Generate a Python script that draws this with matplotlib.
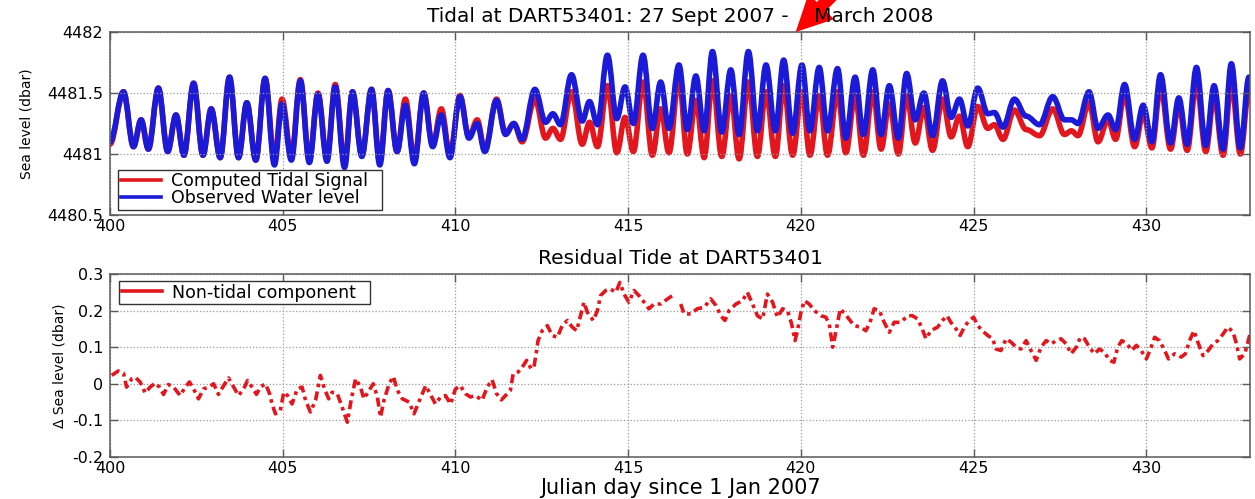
import matplotlib
matplotlib.use('Agg')
import numpy as np
import matplotlib.pyplot as plt
from matplotlib.path import Path
from matplotlib.patches import PathPatch, ArrowStyle
from matplotlib.lines import Line2D
from matplotlib.ticker import FuncFormatter

# Tidal extrema (high / low water) read per half cycle, Julian day since 1 Jan 2007
tide_day = [
    400.00, 400.39, 400.68, 400.90, 401.11, 401.40, 401.67, 401.91, 402.14, 402.42,
    402.69, 402.93, 403.19, 403.46, 403.72, 403.96, 404.22, 404.49, 404.76, 404.98,
    405.25, 405.51, 405.77, 406.02, 406.28, 406.52, 406.79, 407.02, 407.29, 407.57,
    407.81, 408.05, 408.31, 408.55, 408.81, 409.08, 409.34, 409.59, 409.84, 410.13,
    410.39, 410.63, 410.85, 411.19, 411.45, 411.69, 411.93, 412.30, 412.61, 412.82,
    413.04, 413.36, 413.67, 413.88, 414.11, 414.40, 414.67, 414.91, 415.15, 415.43,
    415.70, 415.94, 416.18, 416.47, 416.71, 416.96, 417.20, 417.44, 417.71, 417.97,
    418.21, 418.48, 418.74, 418.99, 419.26, 419.50, 419.76, 420.03, 420.26, 420.53,
    420.77, 421.06, 421.30, 421.57, 421.81, 422.08, 422.32, 422.56, 422.82, 423.06,
    423.31, 423.56, 423.81, 424.10, 424.35, 424.59, 424.83, 425.12, 425.41, 425.60,
    425.85, 426.18, 426.52, 426.91, 427.29, 427.63, 427.83, 428.02, 428.34, 428.60,
    428.89, 429.11, 429.37, 429.66, 429.91, 430.16, 430.41, 430.70, 430.94, 431.18,
    431.45, 431.72, 431.96, 432.22, 432.46, 432.72, 432.97, 433.10,
]
tide_computed = [
    4481.08, 4481.51, 4481.06, 4481.28, 4481.04, 4481.54, 4481.02, 4481.32, 4480.99, 4481.58,
    4480.99, 4481.37, 4480.97, 4481.63, 4480.97, 4481.42, 4480.95, 4481.62, 4480.96, 4481.45,
    4480.98, 4481.61, 4480.95, 4481.50, 4480.96, 4481.57, 4480.93, 4481.51, 4480.99, 4481.53,
    4480.94, 4481.52, 4481.02, 4481.45, 4480.95, 4481.50, 4481.07, 4481.37, 4481.00, 4481.48,
    4481.14, 4481.28, 4481.03, 4481.45, 4481.17, 4481.25, 4481.10, 4481.45, 4481.13, 4481.21,
    4481.12, 4481.51, 4481.08, 4481.26, 4481.06, 4481.56, 4481.01, 4481.30, 4481.02, 4481.59,
    4480.99, 4481.37, 4481.01, 4481.62, 4481.00, 4481.44, 4480.97, 4481.60, 4480.98, 4481.48,
    4480.96, 4481.59, 4480.98, 4481.51, 4480.98, 4481.56, 4480.99, 4481.51, 4480.99, 4481.48,
    4480.99, 4481.51, 4481.01, 4481.48, 4480.99, 4481.51, 4481.04, 4481.41, 4481.00, 4481.48,
    4481.09, 4481.38, 4481.03, 4481.45, 4481.14, 4481.31, 4481.06, 4481.39, 4481.21, 4481.24,
    4481.12, 4481.36, 4481.20, 4481.15, 4481.37, 4481.16, 4481.19, 4481.15, 4481.42, 4481.10,
    4481.28, 4481.12, 4481.49, 4481.06, 4481.33, 4481.05, 4481.55, 4481.04, 4481.40, 4481.03,
    4481.58, 4481.02, 4481.47, 4480.99, 4481.58, 4481.00, 4481.52, 4481.40,
]
tide_observed = [
    4481.10, 4481.51, 4481.06, 4481.28, 4481.04, 4481.54, 4481.02, 4481.32, 4480.99, 4481.58,
    4480.99, 4481.37, 4480.97, 4481.63, 4480.97, 4481.42, 4480.95, 4481.62, 4480.91, 4481.41,
    4480.95, 4481.60, 4480.93, 4481.49, 4480.94, 4481.55, 4480.89, 4481.51, 4480.98, 4481.53,
    4480.91, 4481.52, 4481.02, 4481.40, 4480.92, 4481.50, 4481.06, 4481.32, 4480.97, 4481.47,
    4481.13, 4481.25, 4481.02, 4481.44, 4481.16, 4481.25, 4481.12, 4481.53, 4481.26, 4481.33,
    4481.24, 4481.65, 4481.27, 4481.43, 4481.24, 4481.81, 4481.29, 4481.55, 4481.25, 4481.81,
    4481.21, 4481.59, 4481.21, 4481.73, 4481.20, 4481.64, 4481.19, 4481.84, 4481.18, 4481.69,
    4481.16, 4481.84, 4481.19, 4481.73, 4481.19, 4481.77, 4481.17, 4481.73, 4481.19, 4481.71,
    4481.19, 4481.70, 4481.13, 4481.63, 4481.16, 4481.69, 4481.16, 4481.56, 4481.13, 4481.66,
    4481.28, 4481.50, 4481.15, 4481.60, 4481.30, 4481.45, 4481.23, 4481.54, 4481.33, 4481.34,
    4481.22, 4481.45, 4481.31, 4481.24, 4481.47, 4481.28, 4481.28, 4481.25, 4481.51, 4481.21,
    4481.32, 4481.20, 4481.57, 4481.12, 4481.40, 4481.10, 4481.65, 4481.09, 4481.46, 4481.08,
    4481.71, 4481.07, 4481.56, 4481.04, 4481.74, 4481.05, 4481.63, 4481.50,
]

# Non-tidal residual (observed - computed), NaN marks the data gap
resid_day = [
    400.05, 400.24, 400.39, 400.48, 400.63, 400.73, 400.87, 401.02, 401.16, 401.31,
    401.43, 401.55, 401.69, 401.84, 402.03, 402.18, 402.30, 402.42, 402.56, 402.71,
    402.85, 403.00, 403.14, 403.29, 403.43, 403.58, 403.72, 403.87, 403.98, 404.11,
    404.24, 404.35, 404.50, 404.62, 404.69, 404.79, 404.93, 405.03, 405.14, 405.27,
    405.42, 405.56, 405.66, 405.80, 405.95, 406.09, 406.21, 406.33, 406.43, 406.58,
    406.72, 406.87, 406.98, 407.11, 407.25, 407.35, 407.50, 407.62, 407.74, 407.83,
    407.93, 408.08, 408.20, 408.32, 408.46, 408.66, 408.80, 409.00, 409.14, 409.28,
    409.42, 409.57, 409.71, 409.86, 410.00, 410.14, 410.29, 410.43, 410.58, 410.77,
    410.92, 411.06, 411.19, 411.33, 411.50, 411.59, 411.67, 411.81, 411.93, 412.06,
    412.19, 412.27, 412.35, 412.39, 412.51, 412.66, 412.80, 412.95, 413.09, 413.24,
    413.38, 413.51, 413.62, 413.72, 413.82, 413.99, 414.11, 414.20, 414.35, 414.49,
    414.64, 414.76, 414.88, 415.02, 415.17, 415.31, 415.46, 415.60, 415.75, 415.94,
    416.14, 416.28, 416.40, 416.52, 416.62, 416.81, 417.00, 417.20, 417.39, 417.54,
    417.68, 417.80, 417.92, 418.12, 418.31, 418.45, 418.60, 418.74, 418.89, 419.03,
    419.18, 419.32, 419.47, 419.61, 419.73, 419.83, 419.90, 420.00, 420.10, 420.24,
    420.39, 420.58, 420.72, 420.82, 420.92, 421.01, 421.14, 421.30, 421.54, 421.73,
    421.88, 422.00, 422.12, 422.27, 422.41, 422.56, 422.70, 422.89, 423.09, 423.23,
    423.38, 423.49, 423.62, 423.76, 423.96, 424.10, 424.23, 424.34, 424.49, 424.61,
    424.73, 424.87, 425.00, 425.12, 425.26, 425.41, 425.55, 425.65, 425.79, 425.94,
    426.08, 426.23, 426.37, 426.52, 426.66, 426.81, 426.95, 427.10, 427.24, 427.39,
    427.53, 427.68, 427.82, 427.97, 428.09, 428.21, 428.35, 428.50, 428.64, 428.79,
    428.93, 429.06, 429.17, 429.29, 429.44, 429.58, 429.71, 429.85, 430.00, 430.12,
    430.24, 430.38, 430.53, 430.64, 430.82, 431.01, 431.13, 431.25, 431.38, 431.49,
    431.64, 431.79, 431.93, 432.07, 432.22, 432.36, 432.51, 432.61, 432.70, 432.85,
    433.00,
]
resid_level = [
    0.023, 0.035, 0.029, -0.009, 0.014, 0.018, 0.005, -0.025, -0.009, 0.002,
    -0.009, -0.029, -0.002, -0.009, -0.032, -0.009, 0.005, -0.014, -0.041, -0.014,
    -0.009, 0.000, -0.029, -0.005, 0.016, -0.009, -0.032, -0.014, 0.009, -0.009,
    -0.029, -0.009, 0.000, -0.027, -0.055, -0.082, -0.073, -0.023, -0.032, -0.055,
    -0.014, -0.009, -0.045, -0.077, -0.045, 0.023, -0.014, -0.041, -0.023, -0.027,
    -0.064, -0.105, -0.045, 0.014, -0.009, -0.041, -0.018, 0.000, -0.036, -0.091,
    -0.045, 0.000, 0.020, -0.018, -0.041, -0.050, -0.082, -0.036, -0.005, -0.030,
    -0.055, -0.036, -0.032, -0.055, -0.014, -0.005, -0.027, -0.036, -0.032, -0.045,
    -0.009, 0.011, -0.027, -0.044, -0.027, -0.018, 0.027, 0.032, 0.045, 0.064,
    0.041, 0.045, 0.091, 0.118, 0.145, 0.159, 0.132, 0.127, 0.159, 0.173,
    0.155, 0.145, 0.186, 0.223, 0.195, 0.173, 0.200, 0.241, 0.255, 0.259,
    0.250, 0.277, 0.245, 0.223, 0.255, 0.241, 0.223, 0.205, 0.218, 0.218,
    0.232, 0.241, np.nan, 0.218, 0.191, 0.191, 0.205, 0.209, 0.232, 0.214,
    0.186, 0.173, 0.200, 0.218, 0.227, 0.250, 0.218, 0.186, 0.177, 0.245,
    0.223, 0.182, 0.205, 0.200, 0.164, 0.118, 0.145, 0.195, 0.227, 0.218,
    0.200, 0.186, 0.182, 0.164, 0.100, 0.141, 0.205, 0.188, 0.159, 0.155,
    0.145, 0.168, 0.205, 0.200, 0.168, 0.141, 0.168, 0.168, 0.186, 0.186,
    0.177, 0.155, 0.123, 0.145, 0.155, 0.173, 0.186, 0.168, 0.150, 0.132,
    0.155, 0.173, 0.182, 0.159, 0.144, 0.132, 0.123, 0.095, 0.091, 0.123,
    0.114, 0.100, 0.095, 0.118, 0.091, 0.064, 0.100, 0.118, 0.109, 0.118,
    0.123, 0.109, 0.082, 0.100, 0.127, 0.123, 0.100, 0.082, 0.095, 0.086,
    0.064, 0.059, 0.100, 0.118, 0.109, 0.091, 0.105, 0.091, 0.068, 0.095,
    0.127, 0.118, 0.091, 0.068, 0.082, 0.073, 0.082, 0.118, 0.145, 0.114,
    0.077, 0.091, 0.109, 0.118, 0.136, 0.155, 0.141, 0.109, 0.068, 0.082,
    0.136,
]

day_ticks = [400, 405, 410, 415, 420, 425, 430]
level_ticks = [4480.5, 4481, 4481.5, 4482]
resid_ticks = [-0.2, -0.1, 0, 0.1, 0.2, 0.3]

RED = '#e2161c'
BLUE = '#1a1ad8'
FRAME = '#5a5a5a'

plt.rcParams['font.family'] = ['DejaVu Sans']
plt.rcParams['axes.unicode_minus'] = False


def tide_path(t, v):
    # cubic segments with flat tangents at each high/low water
    verts = [(t[0], v[0])]
    codes = [Path.MOVETO]
    for i in range(1, len(t)):
        d = (t[i] - t[i - 1]) * 0.36
        verts += [(t[i - 1] + d, v[i - 1]), (t[i] - d, v[i]), (t[i], v[i])]
        codes += [Path.CURVE4] * 3
    return Path(verts, codes)


def style_axes(ax):
    ax.set_xlim(400, 433)
    ax.set_xticks(day_ticks)
    ax.grid(True, linestyle=':', color='#9a9a9a', linewidth=0.9)
    ax.tick_params(direction='in', length=6, width=1, color=FRAME,
                   top=True, right=True, labelsize=11.5)
    ax.tick_params(axis='x', pad=3)
    ax.tick_params(axis='y', pad=5)
    for s in ax.spines.values():
        s.set_color(FRAME)
        s.set_linewidth(1.1)


def boxed_legend(ax, handles, labels, **kw):
    leg = ax.legend(handles, labels, borderaxespad=0, fontsize=12.5, fancybox=False,
                    framealpha=1, edgecolor='#333333', handlelength=2.3,
                    handletextpad=0.6, labelspacing=-0.05, borderpad=0.15, **kw)
    leg.get_frame().set_linewidth(1.0)
    return leg


fig = plt.figure(figsize=(12.55, 4.99), dpi=100)
ax1 = fig.add_axes([110 / 1255, 1 - 215 / 499, 1140 / 1255, 183 / 499])
ax2 = fig.add_axes([110 / 1255, 1 - 457 / 499, 1140 / 1255, 183 / 499])

# --- top: computed vs observed tide ---
ax1.add_patch(PathPatch(tide_path(tide_day, tide_computed), facecolor='none',
                        edgecolor=RED, lw=4.0, capstyle='round', joinstyle='round'))
ax1.add_patch(PathPatch(tide_path(tide_day, tide_observed), facecolor='none',
                        edgecolor=BLUE, lw=4.0, capstyle='round', joinstyle='round'))
style_axes(ax1)
ax1.set_ylim(4480.5, 4482)
ax1.set_yticks(level_ticks)
ax1.yaxis.set_major_formatter(FuncFormatter(lambda y, _: f'{y:g}'))
ax1.set_ylabel('Sea level (dbar)', fontsize=10, labelpad=10)
ax1.set_title('Tidal at DART53401: 27 Sept 2007 -    March 2008', fontsize=14.5, pad=7)
boxed_legend(ax1, [Line2D([], [], color=RED, lw=2.6), Line2D([], [], color=BLUE, lw=2.6)],
             ['Computed Tidal Signal  ', 'Observed Water level'],
             loc='lower left', bbox_to_anchor=(0.007, 0.027))

# red pointer dropping onto the day-420 tick
ax1.annotate('', xy=(419.85, 4482.0), xytext=(45, 45), textcoords='offset points',
             annotation_clip=False,
             arrowprops=dict(arrowstyle=ArrowStyle.Simple(head_length=1.0, head_width=1.0,
                                                          tail_width=0.35),
                             facecolor='red', edgecolor='none', mutation_scale=26,
                             shrinkA=0, shrinkB=0))

# --- bottom: non-tidal residual ---
ax2.plot(resid_day, resid_level, color=RED, lw=2.6, linestyle=(0, (2.5, 1.2, 1, 1.2)),
         label='Non-tidal component')
style_axes(ax2)
ax2.set_ylim(-0.2, 0.3)
ax2.set_yticks(resid_ticks)
ax2.yaxis.set_major_formatter(FuncFormatter(lambda y, _: f'{round(y, 2):g}'))
ax2.set_ylabel('\u0394 Sea level (dbar)', fontsize=10, labelpad=4)
ax2.set_title('Residual Tide at DART53401', fontsize=14.5, pad=7)
ax2.set_xlabel('Julian day since 1 Jan 2007', fontsize=15)
ax2.xaxis.set_label_coords(0.5, -0.116)
boxed_legend(ax2, [Line2D([], [], color=RED, lw=2.6)], ['Non-tidal component  '],
             loc='upper left', bbox_to_anchor=(0.008, 0.962))

fig.savefig('out.png', dpi=100)
